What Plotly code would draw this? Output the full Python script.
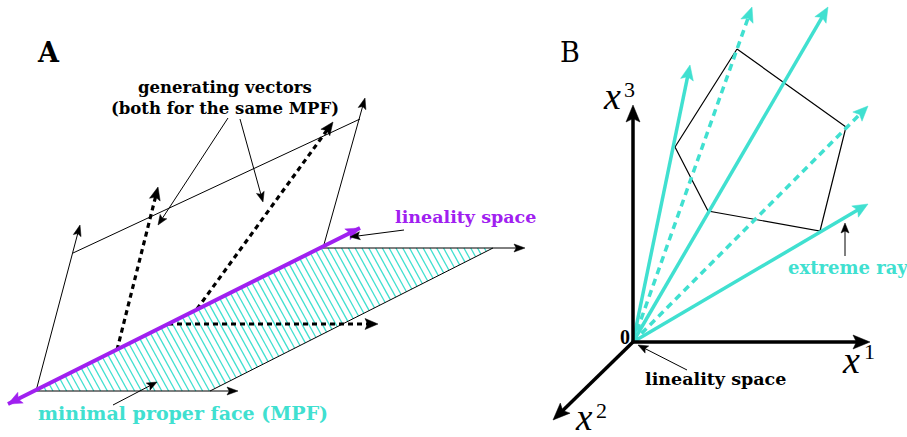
import numpy as np
import plotly.graph_objects as go

W, H = 907, 437
TURQ = "#40E0D0"
PURPLE = "#A020F0"
BLACK = "#000000"

# ---------------- Panel A (pixel-space coordinates, y grows downward) -------------
# minimal proper face: hatched quadrilateral
mpf_x = [36, 323, 493, 210]
mpf_y = [391, 248, 248, 391]

# lineality space, drawn as a double-headed line through the face
lineality_x = [8, 360]
lineality_y = [404, 228]

# thin cone edges with arrowheads: tail -> head
edge_tail_x = [36, 323, 36, 323]
edge_tail_y = [391, 248, 391, 248]
edge_head_x = [80, 365, 238, 525]
edge_head_y = [225, 98, 391, 248]

# thin plain segments: top of the cone section and right side of the face
plain_x0 = [73, 210]
plain_y0 = [253, 391]
plain_x1 = [360, 493]
plain_y1 = [119, 248]

# dashed generating vectors: tail -> head
gen_tail_x = [117, 197, 168]
gen_tail_y = [350, 309, 324]
gen_head_x = [158, 333, 378]
gen_head_y = [187, 122, 324]

# leader lines of the labels: tail -> head
lead_tail_x = [228, 240, 113, 404]
lead_tail_y = [118, 119, 405, 230]
lead_head_x = [158, 263, 157, 350]
lead_head_y = [225, 202, 382, 237]

# ---------------- Panel B ----------------
origin = (633, 342)
axis_head_x = [870, 633, 553]
axis_head_y = [342, 105, 420]

pent_x = [737, 846, 820, 708, 675]
pent_y = [49, 127, 231, 211, 147]

ray_head_x = [690, 752, 828, 868, 868]
ray_head_y = [65, 7, 7, 106, 204]
ray_dashed = [False, True, False, True, False]

leadB_tail_x = [687, 845]
leadB_tail_y = [370, 256]
leadB_head_x = [638, 845]
leadB_head_y = [345, 223]

fig = go.Figure()


def line(xs, ys, color, width, dash="solid"):
    fig.add_trace(go.Scatter(x=xs, y=ys, mode="lines", hoverinfo="skip",
                             line=dict(color=color, width=width, dash=dash)))


def head(x0, y0, x1, y1, color, hl, hw):
    dx, dy = x1 - x0, y1 - y0
    n = np.hypot(dx, dy)
    ux, uy = dx / n, dy / n
    px, py = -uy, ux
    bx, by = x1 - ux * hl, y1 - uy * hl
    nx, ny = x1 - ux * hl * 0.8, y1 - uy * hl * 0.8
    fig.add_trace(go.Scatter(
        x=[x1, bx + px * hw, nx, bx - px * hw, x1],
        y=[y1, by + py * hw, ny, by - py * hw, y1],
        mode="lines", fill="toself", fillcolor=color, hoverinfo="skip",
        line=dict(color=color, width=0.5)))


def arrow(x0, y0, x1, y1, color, width, hl, hw, dash="solid"):
    dx, dy = x1 - x0, y1 - y0
    n = np.hypot(dx, dy)
    sx, sy = x1 - dx / n * hl * 0.7, y1 - dy / n * hl * 0.7
    line([x0, sx], [y0, sy], color, width, dash)
    head(x0, y0, x1, y1, color, hl, hw)


# hatch lines clipped to the face polygon
def hatch(px, py, slope, spacing):
    xs, ys = [], []
    verts = list(zip(px, py))
    cs = [x - slope * y for x, y in verts]
    c = min(cs) + spacing / 2
    while c < max(cs):
        pts = []
        for i in range(len(verts)):
            (ax_, ay_), (bx_, by_) = verts[i], verts[(i + 1) % len(verts)]
            fa = ax_ - slope * ay_ - c
            fb = bx_ - slope * by_ - c
            if fa * fb < 0:
                t = fa / (fa - fb)
                pts.append((ax_ + t * (bx_ - ax_), ay_ + t * (by_ - ay_)))
        if len(pts) >= 2:
            pts.sort(key=lambda p: p[1])
            xs += [pts[0][0], pts[-1][0], None]
            ys += [pts[0][1], pts[-1][1], None]
        c += spacing
    line(xs, ys, TURQ, 1.3)


hatch(mpf_x, mpf_y, 0.55, 6.8)

# thin black edges
for i in range(len(plain_x0)):
    line([plain_x0[i], plain_x1[i]], [plain_y0[i], plain_y1[i]], BLACK, 1)
for i in range(len(edge_tail_x)):
    arrow(edge_tail_x[i], edge_tail_y[i], edge_head_x[i], edge_head_y[i],
          BLACK, 1, 11, 4)

# dashed generating vectors
for i in range(len(gen_tail_x)):
    arrow(gen_tail_x[i], gen_tail_y[i], gen_head_x[i], gen_head_y[i],
          BLACK, 3.2, 13, 5.5, dash="5px,4px")

# lineality space (double headed)
line(lineality_x, lineality_y, PURPLE, 4)
head(lineality_x[1], lineality_y[1], lineality_x[0], lineality_y[0], PURPLE, 14, 6)
head(lineality_x[0], lineality_y[0], lineality_x[1], lineality_y[1], PURPLE, 14, 6)

for i in range(len(lead_tail_x)):
    arrow(lead_tail_x[i], lead_tail_y[i], lead_head_x[i], lead_head_y[i],
          BLACK, 1, 10, 4)

# Panel B: polytope section
line(pent_x + pent_x[:1], pent_y + pent_y[:1], BLACK, 1.2)

# cone rays
for i in range(len(ray_head_x)):
    arrow(origin[0], origin[1], ray_head_x[i], ray_head_y[i], TURQ, 3.5, 15, 6.5,
          dash="7px,5px" if ray_dashed[i] else "solid")

# coordinate axes
for i in range(len(axis_head_x)):
    arrow(origin[0], origin[1], axis_head_x[i], axis_head_y[i], BLACK, 3.5, 17, 7)

for i in range(len(leadB_tail_x)):
    arrow(leadB_tail_x[i], leadB_tail_y[i], leadB_head_x[i], leadB_head_y[i],
          BLACK, 1, 10, 4)

SERIF = "DejaVu Serif"
TIMES = "Liberation Serif"


def label(x, y, text, size, color=BLACK, family=SERIF):
    fig.add_annotation(x=x, y=y, text=text, showarrow=False,
                       xanchor="center", yanchor="middle",
                       font=dict(family=family, size=size, color=color))


label(48, 52, "<b>A</b>", 27)
label(570, 52, "B", 27)
label(225, 87, "<b>generating vectors</b>", 16.5)
label(225, 108, "<b>(both for the same MPF)</b>", 16.5)
label(465, 217, "<b>lineality space</b>", 17.5, PURPLE)
label(183, 413, "<b>minimal proper face (MPF)</b>", 19, TURQ)
label(715, 379, "<b>lineality space</b>", 17.5)
label(848, 267, "<b>extreme ray</b>", 18, TURQ)
label(625, 337, "<b>0</b>", 20, family=TIMES)

label(612, 96, "<i>x</i>", 38, family=TIMES)
label(629, 89, "3", 22, family=TIMES)
label(851, 360, "<i>x</i>", 38, family=TIMES)
label(869, 351, "1", 22, family=TIMES)
label(584, 417, "<i>x</i>", 37, family=TIMES)
label(601, 410, "2", 22, family=TIMES)

fig.update_layout(
    width=W, height=H, margin=dict(l=0, r=0, t=0, b=0),
    paper_bgcolor="white", plot_bgcolor="white", showlegend=False,
    xaxis=dict(range=[0, W], visible=False, fixedrange=True),
    yaxis=dict(range=[H, 0], visible=False, fixedrange=True),
)

fig.write_html("out.html")
